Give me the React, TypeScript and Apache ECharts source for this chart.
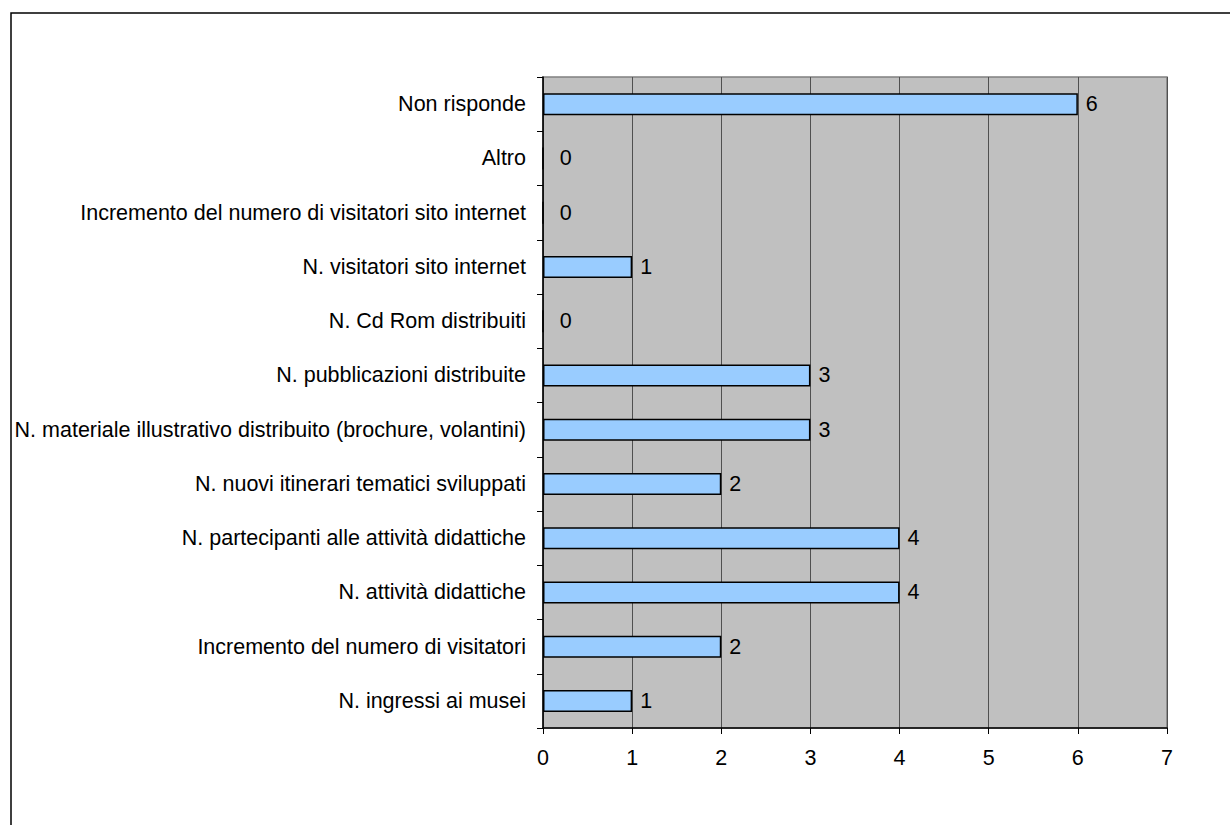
import React, { useEffect, useRef } from "react";
import * as echarts from "echarts";

// Categories listed bottom-to-top (category axis on y starts at the bottom)
const categories: string[] = [
  "N. ingressi ai musei",
  "Incremento del numero di visitatori",
  "N. attività didattiche",
  "N. partecipanti alle attività didattiche",
  "N. nuovi itinerari tematici sviluppati",
  "N. materiale illustrativo distribuito (brochure, volantini)",
  "N. pubblicazioni distribuite",
  "N. Cd Rom distribuiti",
  "N. visitatori sito internet",
  "Incremento del numero di visitatori sito internet",
  "Altro",
  "Non risponde",
];

const counts: number[] = [1, 2, 4, 4, 2, 3, 3, 0, 1, 0, 0, 6];

const xTicks: number[] = [0, 1, 2, 3, 4, 5, 6, 7];

const FONT = "'Liberation Sans', Arial, sans-serif";
const FONT_SIZE = 21.5;

export default function App() {
  const ref = useRef<HTMLDivElement>(null);

  useEffect(() => {
    if (!ref.current) return;
    const chart = echarts.init(ref.current, undefined, { renderer: "svg" });

    const grid = { left: 543, top: 77, width: 624, height: 651 };

    chart.setOption({
      animation: false,
      backgroundColor: "#ffffff",
      textStyle: { fontFamily: FONT },
      graphic: [
        {
          type: "rect",
          shape: { x: 11, y: 13, width: 1300, height: 900 },
          style: { fill: "none", stroke: "#000000", lineWidth: 1.5 },
          silent: true,
          z: 0,
        },
      ],
      grid: {
        ...grid,
        show: true,
        backgroundColor: "#c0c0c0",
        borderColor: "#808080",
        borderWidth: 1.5,
        containLabel: false,
      },
      xAxis: {
        type: "value",
        min: xTicks[0],
        max: xTicks[xTicks.length - 1],
        interval: 1,
        axisLine: { show: true, onZero: false, lineStyle: { color: "#000000", width: 1.5 } },
        axisTick: { show: true, length: 6, lineStyle: { color: "#000000", width: 1 } },
        axisLabel: {
          color: "#000000",
          fontSize: FONT_SIZE,
          fontFamily: FONT,
          margin: 19,
          formatter: (v: number) => String(v),
        },
        splitLine: { show: true, lineStyle: { color: "#505050", width: 1 } },
      },
      yAxis: {
        type: "category",
        data: categories,
        axisLine: { show: true, lineStyle: { color: "#000000", width: 1.5 } },
        axisTick: { show: true, length: 6, inside: false, lineStyle: { color: "#000000", width: 1 } },
        axisLabel: {
          color: "#000000",
          fontSize: FONT_SIZE,
          fontFamily: FONT,
          margin: 17,
        },
        splitLine: { show: false },
      },
      series: [
        {
          type: "bar",
          barWidth: 22,
          data: counts.map((v) => ({
            value: v,
            label: { distance: v === 0 ? 16 : 8 },
          })),
          itemStyle: {
            color: "#99ccff",
            borderColor: "#000000",
            borderWidth: 1.5,
          },
          label: {
            show: true,
            position: "right",
            color: "#000000",
            fontSize: FONT_SIZE,
            fontFamily: FONT,
          },
        },
      ],
    });

    return () => chart.dispose();
  }, []);

  return (
    <div
      ref={ref}
      style={{ position: "fixed", left: 0, top: 0, width: 1230, height: 825 }}
    />
  );
}
